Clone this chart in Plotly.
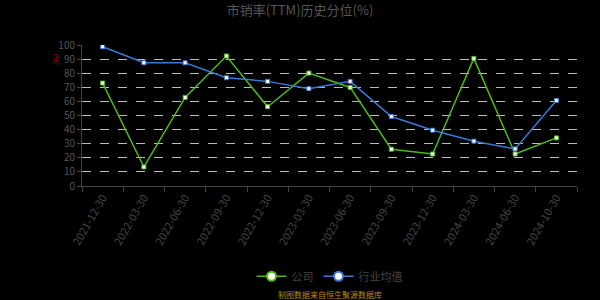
import plotly.graph_objects as go

dates = ["2021-12-30", "2022-03-30", "2022-06-30", "2022-09-30", "2022-12-30", "2023-03-30",
         "2023-06-30", "2023-09-30", "2023-12-30", "2024-03-30", "2024-06-30", "2024-10-30"]
company = [73.0, 13.5, 62.8, 92.2, 56.2, 80.1, 69.9, 26.1, 22.7, 90.5, 22.7, 34.1]
industry = [98.8, 87.4, 87.4, 76.8, 74.2, 69.0, 74.2, 49.3, 39.6, 31.8, 26.3, 60.7]

green = "#4fb81c"
blue = "#3b78d6"
font_family = "Noto Sans CJK SC, Noto Sans, sans-serif"

fig = go.Figure()
for name, vals, col in [("公司", company, green), ("行业均值", industry, blue)]:
    fig.add_trace(go.Scatter(
        x=dates, y=vals, mode="lines+markers", name=name, showlegend=False,
        line=dict(color=col, width=1.5),
        marker=dict(symbol="square", size=4, color="white", line=dict(color=col, width=1)),
    ))
for name, col in [("公司", green), ("行业均值", blue)]:
    fig.add_trace(go.Scatter(
        x=[None], y=[None], mode="lines+markers", name=name,
        line=dict(color=col, width=1.5),
        marker=dict(symbol="circle", size=9, color="white", line=dict(color=col, width=2)),
    ))

fig.update_layout(
    width=600, height=300,
    paper_bgcolor="black", plot_bgcolor="black",
    margin=dict(l=82, r=23, t=45, b=114, autoexpand=False),
    font=dict(family=font_family, color="#444", size=11),
    title=dict(text="市销率(TTM)历史分位(%)", x=0.5, xanchor="center", y=0.965, yanchor="middle",
               font=dict(size=13, color="#555")),
    showlegend=True,
    legend=dict(orientation="h", x=0.5, xanchor="center", y=-0.64, yanchor="middle",
                font=dict(size=11, color="#444"), bgcolor="rgba(0,0,0,0)", itemwidth=30),
    xaxis=dict(type="category", range=[-0.5, len(dates) - 0.5], showgrid=False, showline=True,
               linecolor="#444", linewidth=1,
               ticks="outside", tickson="boundaries", ticklen=5, tickcolor="#444", automargin=False,
               tickangle=-60, tickfont=dict(size=11, color="#444"), zeroline=False),
    yaxis=dict(range=[0, 100], dtick=10, showgrid=True, gridcolor="#bbb", griddash="dash", gridwidth=1,
               showline=True, linecolor="#444", linewidth=1, ticks="outside", ticklen=4, tickcolor="#444",
               automargin=False, tickfont=dict(size=10, color="#555"), zeroline=False),
    annotations=[
        dict(text="(%)", x=-0.068, xref="paper", y=0.95, yref="paper", showarrow=False, textangle=-90,
             font=dict(size=7, color="#c00000")),
        dict(text="制图数据来自恒生聚源数据库", x=0.5, xref="paper", y=-0.82, yref="paper", showarrow=False,
             font=dict(size=8, color="#b8860b")),
    ],
)

fig.write_html("out.html")
